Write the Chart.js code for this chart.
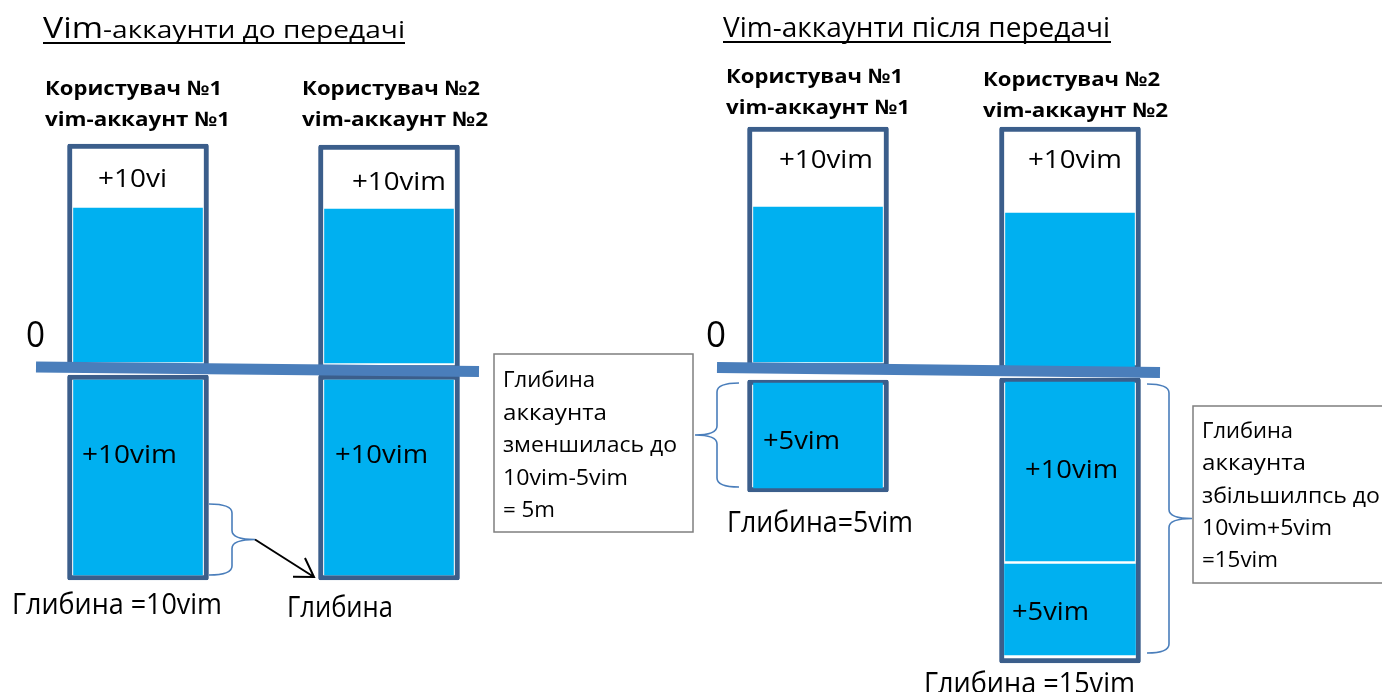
<!DOCTYPE html>
<html>
<head>
<meta charset="utf-8">
<title>Vim-аккаунти</title>
<script src="https://cdn.jsdelivr.net/npm/chart.js@4/dist/chart.umd.min.js"></script>
<style>
  body { margin: 0; background: #fff; }
  canvas { display: block; }
</style>
</head>
<body>
<canvas id="myChart" width="1382" height="692"></canvas>
<script>
const myChartElement = document.getElementById('myChart');

// accounts: before transfer (1, 2), after transfer (1, 2)
const accountNames = ['Користувач №1', 'Користувач №2', 'Користувач №1', 'Користувач №2'];
const accountIds = ['vim-аккаунт №1', 'vim-аккаунт №2', 'vim-аккаунт №1', 'vim-аккаунт №2'];
const accountX = [138, 389, 818, 1070];

// values in vim, 0 = the zero line
const topBox = [[-0.1, 11.2], [-0.1, 11.15], [0, 12.05], [-0.1, 12.05]];
const topFill = [[0.3, 8.0], [0.25, 7.95], [0.3, 8.05], [0.05, 7.75]];
const depthBox = [[-0.35, -10.6], [-0.35, -10.6], [-0.6, -6.2], [-0.5, -14.75]];
const depthFill = [[-0.6, -10.35], [-0.6, -10.35], [-0.75, -6.0], [-0.7, -9.65]];
const extraFill = [null, null, null, [-9.8, -14.35]];

const topLabels = ['+10vi', '+10vim', '+10vim', '+10vim'];
const depthLabels = ['+10vim', '+10vim', '+5vim', '+10vim'];
const depthTitles = ['Глибина =10vim', 'Глибина', 'Глибина=5vim', 'Глибина =15vim'];

const zeroLineX = [[36, 479], [717, 1160]];
const zeroLineY = [[0.05, -0.18], [0.03, -0.23]];

const braceSpans = [[-6.8, -10.35], [-0.75, -5.95], [-0.8, -14.25]];

const noteLeft = ['Глибина', 'аккаунта', 'зменшилась до', '10vim-5vim', '= 5m'];
const noteRight = ['Глибина', 'аккаунта', 'збільшилпсь до', '10vim+5vim', '=15vim'];

const boxBorder = '#3b5e8b';
const fillBlue = '#00b0f0';
const lineBlue = '#4a7ebb';

function toPoints(list) {
  let points = [];
  list.forEach((range, i) => {
    if (range) {
      points.push({ x: accountX[i], y: range });
    }
  });
  return points;
}

function drawText(ctx, str, x, y, size, width, bold) {
  ctx.save();
  ctx.font = (bold ? 'bold ' : '') + size + 'px "Open Sans"';
  ctx.fillStyle = '#000';
  ctx.textBaseline = 'alphabetic';
  let w = ctx.measureText(str).width;
  ctx.translate(x, y);
  if (width) {
    ctx.scale(width / w, 1);
  }
  ctx.fillText(str, 0, 0);
  ctx.restore();
}

function drawBrace(ctx, tip, mid, point, yTop, yBot) {
  let yc = (yTop + yBot) / 2;
  let r = 9;
  ctx.beginPath();
  ctx.moveTo(tip, yTop);
  ctx.quadraticCurveTo(mid, yTop, mid, yTop + r);
  ctx.lineTo(mid, yc - r);
  ctx.quadraticCurveTo(mid, yc, point, yc);
  ctx.quadraticCurveTo(mid, yc, mid, yc + r);
  ctx.lineTo(mid, yBot - r);
  ctx.quadraticCurveTo(mid, yBot, tip, yBot);
  ctx.stroke();
}

const labelsPlugin = {
  id: 'labels',
  afterDraw(chart) {
    const ctx = chart.ctx;
    const xs = chart.scales.x;
    const ys = chart.scales.y;

    // titles
    drawText(ctx, 'Vim', 43, 38, 30, 60);
    drawText(ctx, '-аккаунти до передачі', 103, 38, 24, 302);
    drawText(ctx, 'Vim-аккаунти після передачі', 723, 37, 28, 387);
    ctx.fillStyle = '#000';
    ctx.fillRect(43, 42, 362, 2);
    ctx.fillRect(723, 41, 388, 2);

    // account headers
    const headX = [45, 302, 726, 983];
    const headY = [95, 95, 83, 86];
    const headW = [[177, 185], [178, 186], [177, 184], [177, 185]];
    accountNames.forEach((name, i) => {
      drawText(ctx, name, headX[i], headY[i], 20, headW[i][0], true);
      drawText(ctx, accountIds[i], headX[i], headY[i] + 31, 20, headW[i][1], true);
    });

    // box labels
    const topPos = [[98, 187, 69], [352, 190, 94], [779, 168, 94], [1028, 168, 94]];
    topLabels.forEach((t, i) => drawText(ctx, t, topPos[i][0], topPos[i][1], 25, topPos[i][2]));
    const depthPos = [[82, 463, 95], [335, 463, 93], [763, 449, 77], [1025, 478, 93]];
    depthLabels.forEach((t, i) => drawText(ctx, t, depthPos[i][0], depthPos[i][1], 25, depthPos[i][2]));
    drawText(ctx, '+5vim', 1012, 620, 25, 77);

    const titlePos = [[12, 614, 210], [287, 617, 106], [727, 532, 186], [924, 693, 211]];
    depthTitles.forEach((t, i) => drawText(ctx, t, titlePos[i][0], titlePos[i][1], 30, titlePos[i][2]));

    // zero marks
    drawText(ctx, '0', 26, 347, 37, 19);
    drawText(ctx, '0', 706, 347, 37, 20);

    // note boxes
    ctx.save();
    ctx.strokeStyle = '#7f7f7f';
    ctx.lineWidth = 1.5;
    ctx.fillStyle = '#fff';
    ctx.fillRect(494, 354, 199, 178);
    ctx.strokeRect(494, 354, 199, 178);
    ctx.fillRect(1193, 406, 220, 177);
    ctx.strokeRect(1193, 406, 220, 177);
    ctx.restore();
    const noteLeftW = [92, 104, 174, 125, 52];
    noteLeft.forEach((t, i) => drawText(ctx, t, 503, 387 + i * 32.5, 22, noteLeftW[i]));
    const noteRightW = [91, 104, 178, 130, 76];
    noteRight.forEach((t, i) => drawText(ctx, t, 1202, 438 + i * 32.3, 22, noteRightW[i]));

    // braces
    const braceX = [[209, 232, 255], [739, 717, 695], [1147, 1169, 1192]];
    ctx.save();
    ctx.strokeStyle = lineBlue;
    ctx.lineWidth = 1.6;
    braceSpans.forEach((span, i) => {
      drawBrace(ctx, xs.getPixelForValue(braceX[i][0]), xs.getPixelForValue(braceX[i][1]),
        xs.getPixelForValue(braceX[i][2]), ys.getPixelForValue(span[0]), ys.getPixelForValue(span[1]));
    });
    ctx.restore();

    // arrow from the brace to account 2
    let ax = xs.getPixelForValue(braceX[0][2]);
    let ay = ys.getPixelForValue((braceSpans[0][0] + braceSpans[0][1]) / 2);
    let bx = xs.getPixelForValue(314);
    let by = ys.getPixelForValue(depthBox[0][1] + 0.15);
    let ang = Math.atan2(by - ay, bx - ax);
    ctx.save();
    ctx.strokeStyle = '#000';
    ctx.lineWidth = 2;
    ctx.beginPath();
    ctx.moveTo(ax, ay);
    ctx.lineTo(bx, by);
    ctx.moveTo(bx + 21 * Math.cos(ang + Math.PI - 0.56), by + 21 * Math.sin(ang + Math.PI - 0.56));
    ctx.lineTo(bx, by);
    ctx.lineTo(bx + 21 * Math.cos(ang + Math.PI + 0.56), by + 21 * Math.sin(ang + Math.PI + 0.56));
    ctx.stroke();
    ctx.restore();
  }
};

function setChart() {

  let boxStyle = {
    type: 'bar',
    grouped: false,
    backgroundColor: '#fff',
    borderColor: boxBorder,
    borderWidth: 5,
    borderRadius: 2,
    borderSkipped: false,
    barThickness: 141,
    order: 3
  };

  let fillStyle = {
    type: 'bar',
    grouped: false,
    backgroundColor: fillBlue,
    borderWidth: 0,
    barThickness: 129,
    order: 2
  };

  let lineStyle = {
    type: 'line',
    borderColor: lineBlue,
    borderWidth: 11,
    borderCapStyle: 'butt',
    pointRadius: 0,
    tension: 0,
    order: 1
  };

  let myDataset = [
    Object.assign({ label: 'top', data: toPoints(topBox) }, boxStyle),
    Object.assign({ label: 'depth', data: toPoints(depthBox) }, boxStyle),
    Object.assign({ label: 'balance', data: toPoints(topFill) }, fillStyle),
    Object.assign({ label: 'depth balance', data: toPoints(depthFill) }, fillStyle),
    Object.assign({ label: 'received', data: toPoints(extraFill) }, fillStyle, { barThickness: 131 }),
    Object.assign({ label: 'zero before', data: zeroLineX[0].map((x, i) => ({ x: x, y: zeroLineY[0][i] })) }, lineStyle),
    Object.assign({ label: 'zero after', data: zeroLineX[1].map((x, i) => ({ x: x, y: zeroLineY[1][i] })) }, lineStyle)
  ];

  let myOptions = {
    responsive: false,
    animation: false,
    devicePixelRatio: 1,
    events: [],
    layout: { padding: 0 },
    plugins: {
      legend: { display: false },
      tooltip: { enabled: false }
    },
    scales: {
      x: {
        type: 'linear',
        min: 0,
        max: 1382,
        offset: false,
        display: false
      },
      y: {
        type: 'linear',
        min: -16.2,
        max: 18.4,
        display: false
      }
    }
  };

  new Chart(myChartElement, {
    type: 'bar',
    data: { datasets: myDataset },
    options: myOptions,
    plugins: [labelsPlugin]
  });
}

setChart();
</script>
</body>
</html>
